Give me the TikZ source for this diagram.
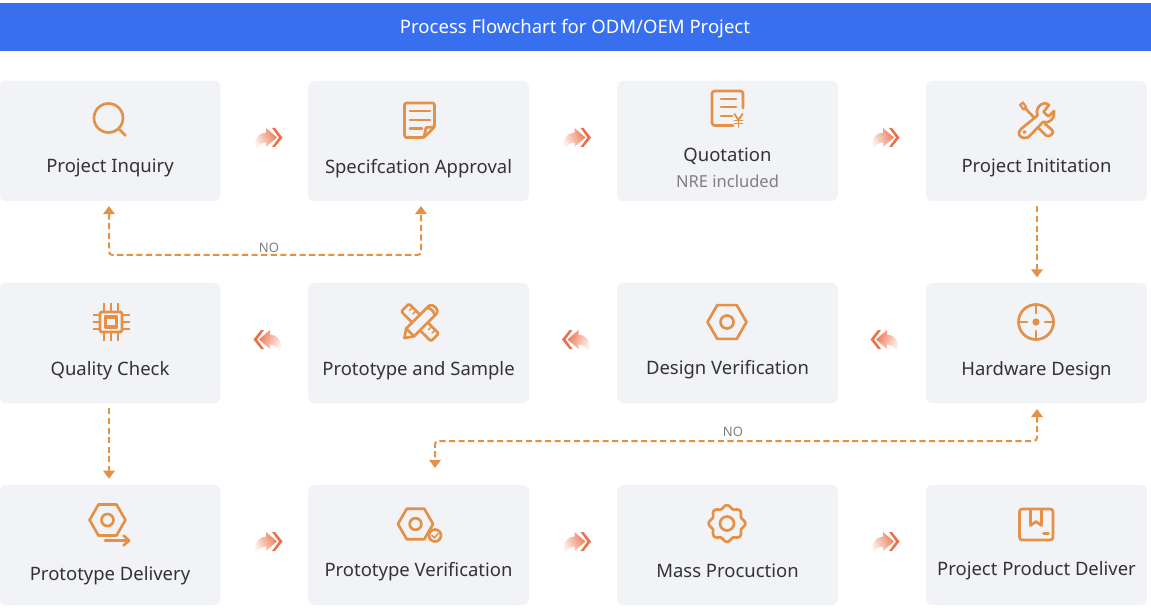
\documentclass[tikz,border=0pt]{standalone}
\usepackage{fontspec}
\setmainfont{Noto Sans}
\usetikzlibrary{arrows.meta,calc}

\definecolor{barblue}{HTML}{386FEE}
\definecolor{boxfill}{HTML}{F2F3F7}
\definecolor{flowline}{HTML}{E59047}
\definecolor{iconline}{HTML}{E59047}
\definecolor{chevron}{HTML}{E8704A}
\definecolor{arrowbody}{HTML}{EC7F5C}
\definecolor{arrowmid}{HTML}{F3B49E}
\definecolor{labeltext}{HTML}{333333}
\definecolor{notetext}{HTML}{7F7F7F}

\tikzset{
  stepbox/.style={fill=boxfill, rounded corners=4.5pt, minimum width=165.6pt, minimum height=90pt, inner sep=0pt},
  steplabel/.style={text=labeltext, font=\fontsize{13.85}{16}\selectfont, text height=10.5pt, text depth=3pt, inner sep=0pt},
  sublabel/.style={text=notetext, font=\fontsize{12.4}{15}\selectfont, text height=9pt, text depth=2.5pt, inner sep=0pt},
  nolabel/.style={text=notetext, font=\fontsize{9.8}{11}\selectfont, inner sep=0pt},
  flowdash/.style={draw=flowline, line width=1.5pt, dash pattern=on 4.6pt off 2.6pt, rounded corners=2.5pt,
    -{Triangle[length=6pt,width=8.5pt]}},
  iconstroke/.style={draw=iconline, line width=2pt, line cap=round, line join=round},
  hexnut/.pic={
    \draw[iconstroke] (0:19.5) -- (60:19.5) -- (120:19.5) -- (180:19.5) -- (240:19.5) -- (300:19.5) -- cycle;
    \draw[iconstroke] (0,0) circle (6.5);
  }
}

% gradient arrow with chevron, #1 x, #2 y, #3 direction, #4/#5 end colours
\newcommand{\flowarrow}[5]{
  \begin{scope}[shift={(#1,#2)},xscale=#3]
    \shade[left color=#4, middle color=arrowmid, right color=#5, shading angle=90+#3*25]
      (-2,-9.5) -- (9,0) -- (-2,9.5) -- (-2,5) .. controls (-8,5) and (-11,9) .. (-12,15)
      -- (-14,15) .. controls (-15,2) and (-9,-5) .. (-2,-5) -- cycle;
    \fill[chevron] (4,-9.5) -- (7,-9.5) -- (14.5,0) -- (7,9.5) -- (4,9.5) -- (11,0) -- cycle;
  \end{scope}
}

\begin{document}
\begin{tikzpicture}[x=0.75pt, y=-0.75pt, >=Stealth, line cap=butt]

\useasboundingbox (0,0) rectangle (1151,609);

% ----------------------------
% PARAMETERS
% ----------------------------
\def\colA{110}     % column centres
\def\colB{418.5}
\def\colC{727.5}
\def\colD{1036.5}
\def\rowA{141}     % row centres
\def\rowB{343}
\def\rowC{545}

% ----------------------------
% TITLE BAR
% ----------------------------
\fill[barblue] (0,3) rectangle (1151,51);
\node[text=white, font=\fontsize{13.9}{16}\selectfont, inner sep=0pt] (title) at (575,29) {Process Flowchart for ODM/OEM Project};

% ----------------------------
% STEP BOXES
% ----------------------------
\node[stepbox] (inquiry) at (\colA,\rowA) {};
\node[stepbox] (spec) at (\colB,\rowA) {};
\node[stepbox] (quote) at (\colC,\rowA) {};
\node[stepbox] (init) at (\colD,\rowA) {};

\node[stepbox] (quality) at (\colA,\rowB) {};
\node[stepbox] (sample) at (\colB,\rowB) {};
\node[stepbox] (verify) at (\colC,\rowB) {};
\node[stepbox] (hardware) at (\colD,\rowB) {};

\node[stepbox] (delivery) at (\colA,\rowC) {};
\node[stepbox] (protover) at (\colB,\rowC) {};
\node[stepbox] (mass) at (\colC,\rowC) {};
\node[stepbox] (deliver) at (\colD,\rowC) {};

% ----------------------------
% LABELS
% ----------------------------
\node[steplabel] (inquirytext) at (110,167.5) {Project Inquiry};
\node[steplabel] (spectext) at (418.5,168.5) {Specifcation Approval};
\node[steplabel] (quotetext) at (727.5,156.5) {Quotation};
\node[sublabel] (nretext) at (727.5,183) {NRE included};
\node[steplabel] (inittext) at (1036.5,167.5) {Project Inititation};

\node[steplabel] (qualitytext) at (110,370) {Quality Check};
\node[steplabel] (sampletext) at (418.5,370) {Prototype and Sample};
\node[steplabel] (verifytext) at (727.5,369) {Design Verification};
\node[steplabel] (hardwaretext) at (1036.5,370) {Hardware Design};

\node[steplabel] (deliverytext) at (110,575) {Prototype Delivery};
\node[steplabel] (protovertext) at (418.5,571) {Prototype Verification};
\node[steplabel] (masstext) at (727.5,572) {Mass Procuction};
\node[steplabel] (delivertext) at (1036.5,570) {Project Product Deliver};

% ----------------------------
% FLOW ARROWS
% ----------------------------
\flowarrow{268}{137.5}{1}{white}{arrowbody}
\flowarrow{576.5}{137.5}{1}{white}{arrowbody}
\flowarrow{885}{137.5}{1}{white}{arrowbody}

\flowarrow{268}{339.5}{-1}{arrowbody}{white}
\flowarrow{576.5}{339.5}{-1}{arrowbody}{white}
\flowarrow{885}{339.5}{-1}{arrowbody}{white}

\flowarrow{268}{541.5}{1}{white}{arrowbody}
\flowarrow{576.5}{541.5}{1}{white}{arrowbody}
\flowarrow{885}{541.5}{1}{white}{arrowbody}

% ----------------------------
% DASHED CONNECTORS
% ----------------------------
\draw[flowdash, shorten <=3.8pt, shorten >=4pt] ([xshift=0.4pt]init.south) -- ([xshift=0.4pt]hardware.north);
\draw[flowdash, shorten <=3.8pt, shorten >=4.5pt] ([xshift=-0.75pt]quality.south) -- ([xshift=-0.75pt]delivery.north);

% NO loop, top row
\coordinate (inqdrop) at (109,201);
\coordinate (specdrop) at (421,201);
\coordinate (noleft) at (109,255);
\coordinate (noright) at (421,255);
\draw[flowdash, {Triangle[length=6pt,width=8.5pt]}-{Triangle[length=6pt,width=8.5pt]}, shorten <=3.8pt, shorten >=3.8pt]
  (inqdrop) -- (noleft) -- (noright) -- (specdrop);
\node[nolabel] (notop) at (269,248) {NO};

% NO loop, middle row
\coordinate (harddrop) at (1037,403);
\coordinate (protorise) at (435,485);
\coordinate (noeast) at (1037,441);
\coordinate (nowest) at (435,441);
\draw[flowdash, {Triangle[length=6pt,width=8.5pt]}-{Triangle[length=6pt,width=8.5pt]}, shorten <=4.5pt, shorten >=12.8pt]
  (harddrop) -- (noeast) -- (nowest) -- (protorise);
\node[nolabel] (nomid) at (733,431.5) {NO};

% ----------------------------
% ICONS, TOP ROW
% ----------------------------
% magnifier
\draw[iconstroke] (108.5,118) circle (14.5);
\draw[iconstroke] (118.5,128.5) -- (125.5,135.5);

% document
\draw[iconstroke, rounded corners=1.5pt] (404.5,103) -- (434.5,103) -- (434.5,127) -- (424,137.5) -- (404.5,137.5) -- cycle;
\draw[iconstroke] (434.5,127) -- (426,127.5) -- (424,137.5);
\draw[iconstroke] (410,111) -- (430,111);
\draw[iconstroke] (410,120) -- (430,120);
\draw[iconstroke] (410,128.5) -- (422,128.5);

% quotation sheet
\draw[iconstroke, rounded corners=2pt] (743,108) -- (743,91) -- (712,91) -- (712,125.5) -- (733,125.5);
\draw[iconstroke] (721,99) -- (736,99);
\draw[iconstroke] (721,107) -- (736,107);
\draw[iconstroke] (721,116) -- (732,116);
\draw[iconstroke, line width=1.4pt] (734.5,114) -- (738.5,120) -- (742.5,114);
\draw[iconstroke, line width=1.4pt] (738.5,120) -- (738.5,127);
\draw[iconstroke, line width=1.2pt] (734.5,120.5) -- (742.5,120.5);
\draw[iconstroke, line width=1.2pt] (734.5,123.5) -- (742.5,123.5);

% wrench and screwdriver
\draw[iconstroke] (1045,103) .. controls (1039,104) and (1035,110) .. (1037.5,115.5) -- (1021,129)
  .. controls (1016.5,133) and (1020,138) .. (1024,138) .. controls (1027,138.5) and (1029,137) .. (1030.5,135)
  -- (1043,122) .. controls (1049,124) and (1055,119) .. (1054,111) -- (1048.5,116.5) -- (1043.5,112) -- (1049,105) -- cycle;
\draw[iconstroke, line width=1.4pt] (1024.5,132) circle (1);
\draw[iconstroke, line width=1.6pt] (1020,105) -- (1023,102.5) -- (1026,107) -- (1023.5,109.5) -- cycle;
\draw[iconstroke] (1025,108) -- (1034,117.5);
\draw[iconstroke, rounded corners=2.5pt] (1045,124) -- (1054.5,132) -- (1048,137.5) -- (1038.5,128);

% ----------------------------
% ICONS, MIDDLE ROW
% ----------------------------
% chip
\draw[iconstroke, line width=2.2pt, rounded corners=1.5pt] (100,312) rectangle (122,332);
\draw[iconstroke, line width=2.4pt] (105.5,317) rectangle (116.5,327);
\foreach \p in {-7,0,7}{
  \draw[iconstroke, line cap=butt] (111+\p,303) -- (111+\p,311);
  \draw[iconstroke, line cap=butt] (111+\p,333) -- (111+\p,341);
  \draw[iconstroke, line cap=butt] (92.5,322+\p) -- (100,322+\p);
  \draw[iconstroke, line cap=butt] (122,322+\p) -- (129.5,322+\p);
}

% ruler and pencil
\begin{scope}[shift={(420,322.5)},rotate=-45]
  \draw[iconstroke, rounded corners=1pt] (-21,-5.5) rectangle (21,5.5);
  \foreach \p in {-16,-11,11,16}{
    \draw[iconstroke, line width=1.1pt] (\p,-5.5) -- (\p,-1);
  }
\end{scope}
\begin{scope}[shift={(420,322.5)},rotate=45]
  \draw[iconstroke, fill=boxfill] (-22,0) -- (-14,-5.5) -- (18,-5.5) .. controls (23,-5.5) and (23,5.5) .. (18,5.5) -- (-14,5.5) -- cycle;
  \draw[iconstroke] (-14,-5.5) -- (-14,5.5);
  \draw[iconstroke] (15,-5.5) .. controls (18,-3) and (18,3) .. (15,5.5);
\end{scope}

% hexagon nut
\pic at (727,322) {hexnut};

% crosshair
\draw[iconstroke] (1036,322) circle (17.5);
\fill[iconline] (1036,322) circle (3.6);
\draw[iconstroke] (1036,304.5) -- (1036,313);
\draw[iconstroke] (1036,331) -- (1036,339.5);
\draw[iconstroke] (1018.5,322) -- (1027,322);
\draw[iconstroke] (1045,322) -- (1053.5,322);

% ----------------------------
% ICONS, BOTTOM ROW
% ----------------------------
% hexagon with arrow
\pic[scale=0.92] at (107.5,520) {hexnut};
\draw[iconstroke] (105,540.5) -- (128.5,540.5);
\draw[iconstroke] (123.5,535.5) -- (129,540.5) -- (123.5,545.5);

% hexagon with check badge
\pic[scale=0.9] at (415.5,524) {hexnut};
\draw[iconstroke, fill=boxfill] (435,535.5) circle (6);
\draw[iconstroke, line width=1.1pt] (432,535.5) -- (434.5,538) -- (438,533.5);

% gear
\draw[iconstroke] plot[domain=0:360, samples=145, smooth] ({727+(16.8+1.5*cos(8*\x))*cos(\x)}, {523.5+(16.8+1.5*cos(8*\x))*sin(\x)});
\draw[iconstroke] (727,523.5) circle (7);

% parcel
\draw[iconstroke, rounded corners=2pt] (1019.5,509) rectangle (1053,540);
\draw[iconstroke] (1030.5,509.5) -- (1030.5,525.5) -- (1036,521.5) -- (1041.5,525.5) -- (1041.5,509.5);
\draw[iconstroke] (1043.5,533.5) -- (1048.5,533.5);

\end{tikzpicture}
\end{document}
